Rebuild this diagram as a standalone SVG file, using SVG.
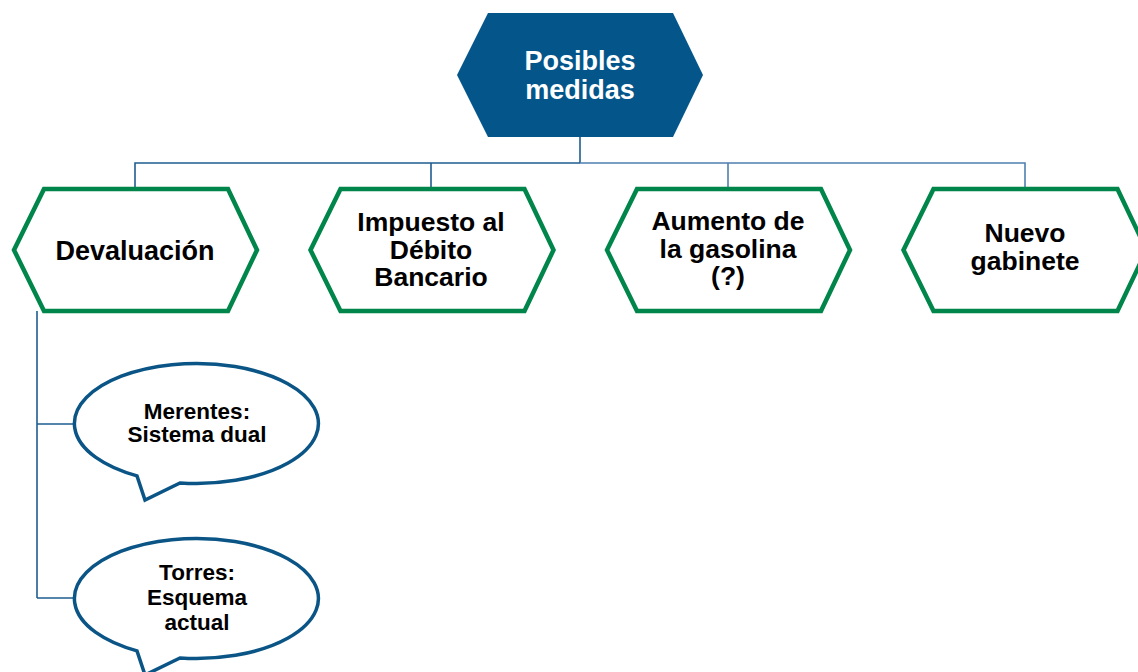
<svg xmlns="http://www.w3.org/2000/svg" width="1138" height="672" viewBox="0 0 1138 672">
<style>
.hex{fill:#ffffff;stroke:#00854a;stroke-width:4.5;stroke-linejoin:miter}
.top{fill:#03558a}
.call{fill:#ffffff;stroke:#0a5586;stroke-width:3.5;stroke-linejoin:miter}
.t{font-family:"Liberation Sans",Arial,sans-serif;font-weight:bold;font-size:26.5px;fill:#000;text-anchor:middle}
.tw{font-family:"Liberation Sans",Arial,sans-serif;font-weight:bold;font-size:27px;fill:#fff;text-anchor:middle}
.tc{font-family:"Liberation Sans",Arial,sans-serif;font-weight:bold;font-size:22.5px;fill:#000;text-anchor:middle}
.c1{fill:none;stroke:#1f5d91;stroke-width:1.6}
.c2{fill:none;stroke:#4f7fb0;stroke-width:1.6}
</style>
<rect width="1138" height="672" fill="#ffffff"/>
<g id="connectors">
<path class="c1" d="M580,137 V163 M580,163 H135 V189 M431,163 V189"/>
<path class="c2" d="M580,163 H1025 V189 M728,163 V189"/>
<path class="c1" d="M37,311 V598 M37,424 H74 M37,598 H74"/>
</g>
<g id="posibles-medidas">
<polygon class="top" points="488,13 673,13 703,75 673,137 488,137 457,75"/>
<text class="tw" x="580" y="70">Posibles</text>
<text class="tw" x="580" y="99">medidas</text>
</g>
<g id="devaluacion">
<polygon class="hex" points="44,189 228,189 257,250 228,311 44,311 14,250"/>
<text class="t" x="135" y="260" style="font-size:27px">Devaluación</text>
</g>
<g id="impuesto">
<polygon class="hex" points="340.5,189 524.5,189 553.5,250 524.5,311 340.5,311 310.5,250"/>
<text class="t" x="431" y="231">Impuesto al</text>
<text class="t" x="431" y="258.5">Débito</text>
<text class="t" x="431" y="286">Bancario</text>
</g>
<g id="aumento">
<polygon class="hex" points="637,189 821,189 850,250 821,311 637,311 607,250"/>
<text class="t" x="728" y="230">Aumento de</text>
<text class="t" x="728" y="257.5">la gasolina</text>
<text class="t" x="728" y="285">(?)</text>
</g>
<g id="nuevo-gabinete">
<polygon class="hex" points="933.5,189 1117.5,189 1146.5,250 1117.5,311 933.5,311 903.5,250"/>
<text class="t" x="1025" y="242">Nuevo</text>
<text class="t" x="1025" y="270">gabinete</text>
</g>
<g id="merentes">
<path class="call" d="M180,482.95 A122 60 0 1 0 137,475.9 L145,500 Z"/>
<text class="tc" x="197" y="419">Merentes:</text>
<text class="tc" x="197" y="442">Sistema dual</text>
</g>
<g id="torres">
<path class="call" d="M180,657.95 A122 60 0 1 0 137,650.9 L145,675 Z"/>
<text class="tc" x="197" y="580">Torres:</text>
<text class="tc" x="197" y="605">Esquema</text>
<text class="tc" x="197" y="630">actual</text>
</g>
</svg>
